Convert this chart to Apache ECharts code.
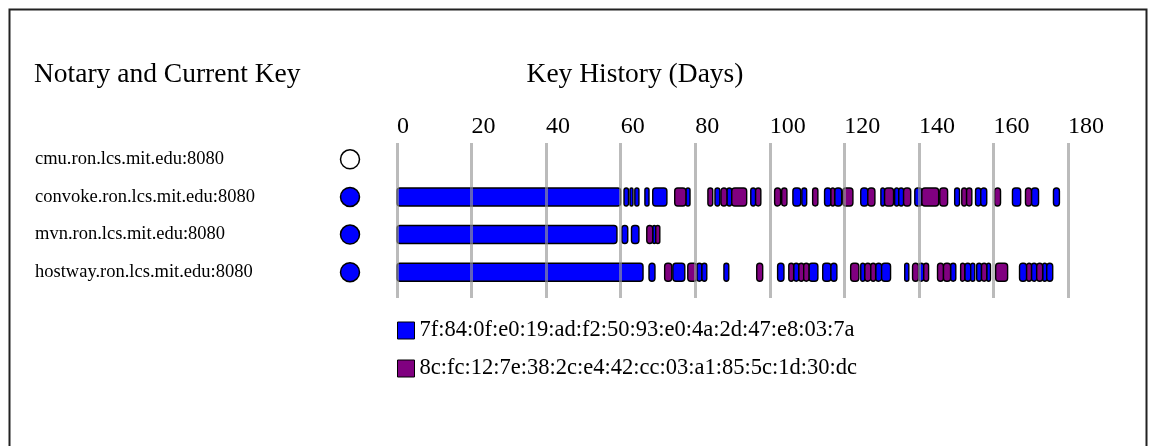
<!DOCTYPE html>
<html>
<head>
<meta charset="utf-8">
<script src="https://cdn.jsdelivr.net/npm/echarts@6/dist/echarts.min.js"></script>
<style>
html,body{margin:0;padding:0;background:#fff;}
#chart{width:1157px;height:446px;}
</style>
</head>
<body>
<div id="chart"></div>
<script>
// ---- data ----
const notaries = [
  'cmu.ron.lcs.mit.edu:8080',
  'convoke.ron.lcs.mit.edu:8080',
  'mvn.ron.lcs.mit.edu:8080',
  'hostway.ron.lcs.mit.edu:8080'
];
const keys = [
  '7f:84:0f:e0:19:ad:f2:50:93:e0:4a:2d:47:e8:03:7a',
  '8c:fc:12:7e:38:2c:e4:42:cc:03:a1:85:5c:1d:30:dc'
];
const keyColors = ['#0000ff', '#800080'];
// index of current key per notary (-1 = none)
const currentKey = [-1, 0, 0, 0];
const dayMin = 0, dayMax = 180, dayStep = 20;

// [startDay, endDay, keyIndex]
const cmuSegments = [];
const convokeSegments = [
  [0, 60, 0], [60.9, 62.1, 0], [62.5, 63.3, 0], [63.8, 64.9, 0], [66.5, 67.6, 0], [68.6, 72.4, 0],
  [74.5, 77.5, 1], [77.5, 78.6, 0],
  [83.4, 84.7, 1], [85.3, 86.6, 0], [86.9, 88.5, 1], [88.5, 89.8, 0], [89.8, 93.8, 1], [94.9, 96.2, 0], [96.2, 97.6, 1],
  [101.3, 102.9, 1], [103.2, 104.6, 1], [106.2, 108.3, 0], [108.6, 109.9, 0], [111.5, 112.9, 1],
  [114.7, 116.4, 0], [116.4, 117.4, 1], [117.4, 119.3, 0], [119.6, 122.3, 1],
  [124.4, 126.3, 0], [126.3, 128.2, 1], [129.8, 130.8, 0], [130.8, 133.2, 1], [133.5, 134.6, 0], [134.6, 135.9, 0],
  [135.9, 137.8, 1], [138.9, 140.8, 0], [140.8, 145.3, 1], [145.6, 147.7, 1],
  [149.6, 150.9, 0], [151.5, 152.8, 1], [152.8, 154.2, 1], [155.2, 156.6, 0], [156.6, 158.2, 0], [160.3, 161.9, 1],
  [165.1, 167.3, 0], [168.6, 170.2, 1], [170.2, 172.1, 0], [176.1, 177.7, 0]
];
const mvnSegments = [
  [0, 59, 0], [60.3, 61.9, 0], [62.9, 64.9, 0], [67.0, 68.6, 1], [68.6, 69.4, 0], [69.4, 70.5, 1]
];
const hostwaySegments = [
  [0, 66, 0], [67.6, 69.2, 0], [71.8, 73.7, 1], [74.0, 77.2, 0], [78.0, 80.4, 1], [80.4, 81.8, 0], [81.8, 83.1, 0],
  [87.7, 89.0, 0], [96.5, 98.1, 1],
  [102.1, 103.8, 0], [105.1, 106.4, 1], [106.4, 107.8, 0], [107.8, 109.1, 1], [109.1, 110.5, 1], [110.5, 112.9, 0],
  [114.2, 116.4, 0], [116.4, 118.0, 0],
  [121.7, 123.9, 1], [124.4, 125.5, 0], [125.5, 127.1, 1], [127.1, 128.4, 1], [128.4, 130.0, 0], [130.0, 132.4, 0],
  [136.2, 137.3, 0], [138.3, 139.9, 1], [139.9, 141.3, 0], [141.3, 142.6, 1],
  [145.0, 146.6, 1], [146.6, 148.5, 1], [148.5, 149.9, 0], [151.2, 152.3, 1], [152.3, 153.9, 0], [153.9, 155.0, 0],
  [155.5, 156.8, 0], [156.8, 158.2, 1], [158.2, 159.2, 0], [160.6, 163.8, 1],
  [167.0, 168.9, 0], [168.9, 170.2, 1], [170.2, 171.6, 0], [171.6, 173.2, 1], [173.2, 174.3, 0], [174.3, 175.9, 0]
];
const segmentsByNotary = [cmuSegments, convokeSegments, mvnSegments, hostwaySegments];

// ---- chart ----
const FONT = '"Liberation Serif", "Times New Roman", serif';
const chart = echarts.init(document.getElementById('chart'), null, {renderer: 'canvas'});

const keySeries = keys.map(function (name, k) {
  const data = [];
  segmentsByNotary.forEach(function (segs, i) {
    segs.forEach(function (s) { if (s[2] === k) data.push([s[0], s[1], i]); });
  });
  return {
    type: 'custom',
    name: name,
    xAxisIndex: 1,
    yAxisIndex: 1,
    itemStyle: {color: keyColors[k], borderColor: '#000', borderWidth: 1},
    encode: {x: [0, 1], y: 2},
    renderItem: function (params, api) {
      const row = api.value(2);
      const p0 = api.coord([api.value(0), row]);
      const p1 = api.coord([api.value(1), row]);
      const h = 18;
      return {
        type: 'rect',
        shape: {x: p0[0], y: p0[1] - h / 2, width: Math.max(p1[0] - p0[0], 1), height: h, r: 3},
        style: {fill: keyColors[k], stroke: '#000', lineWidth: 1.4}
      };
    },
    data: data
  };
});

const circleData = currentKey.map(function (k, i) {
  return {
    value: [0.5, i],
    itemStyle: {
      color: k < 0 ? '#ffffff' : keyColors[k],
      borderColor: '#000',
      borderWidth: 1.5,
      opacity: 1
    }
  };
});

const option = {
  animation: false,
  backgroundColor: '#ffffff',
  title: [
    {text: 'Notary and Current Key', left: 34, top: 61, padding: 0,
     textStyle: {fontFamily: FONT, fontSize: 27.5, fontWeight: 'normal', color: '#000'}},
    {text: 'Key History (Days)', left: 635, textAlign: 'center', top: 61, padding: 0,
     textStyle: {fontFamily: FONT, fontSize: 27.5, fontWeight: 'normal', color: '#000'}}
  ],
  graphic: [
    {type: 'rect', shape: {x: 9.5, y: 9.5, width: 1137, height: 470},
     style: {fill: 'none', stroke: '#222', lineWidth: 2}, silent: true}
  ],
  legend: {
    orient: 'vertical',
    left: 397,
    top: 319,
    padding: 0,
    itemWidth: 17,
    itemHeight: 17,
    itemGap: 15,
    icon: 'rect',
    selectedMode: false,
    textStyle: {fontFamily: FONT, fontSize: 22.5, color: '#000', lineHeight: 22},
    data: keys.map(function (name, k) {
      return {name: name, itemStyle: {color: keyColors[k], borderColor: '#000', borderWidth: 1}};
    })
  },
  grid: [
    {left: 397, width: 671, top: 143, height: 155},
    {left: 397, width: 671, top: 140.5, height: 150.5},
    {left: 341, width: 18, top: 140.5, height: 150.5}
  ],
  xAxis: [
    {gridIndex: 0, type: 'value', position: 'top', min: dayMin, max: dayMax, interval: dayStep, z: 10,
     axisLine: {show: false}, axisTick: {show: false},
     axisLabel: {align: 'left', margin: 4, fontFamily: FONT, fontSize: 24, color: '#000'},
     splitLine: {show: true, lineStyle: {color: 'rgba(150,150,150,0.65)', width: 3}}},
    {gridIndex: 1, type: 'value', min: dayMin, max: dayMax, show: false},
    {gridIndex: 2, type: 'value', min: 0, max: 1, show: false}
  ],
  yAxis: [
    {gridIndex: 0, type: 'value', show: false},
    {gridIndex: 1, type: 'category', inverse: true, data: notaries,
     axisLine: {show: false}, axisTick: {show: false}, splitLine: {show: false},
     axisLabel: {align: 'left', margin: 362, fontFamily: FONT, fontSize: 18.5, color: '#000'}},
    {gridIndex: 2, type: 'category', inverse: true, data: notaries, show: false}
  ],
  series: keySeries.concat([
    {type: 'scatter', xAxisIndex: 2, yAxisIndex: 2, symbol: 'circle', symbolSize: 19,
     data: circleData, silent: true}
  ])
};
chart.setOption(option);
</script>
</body>
</html>
